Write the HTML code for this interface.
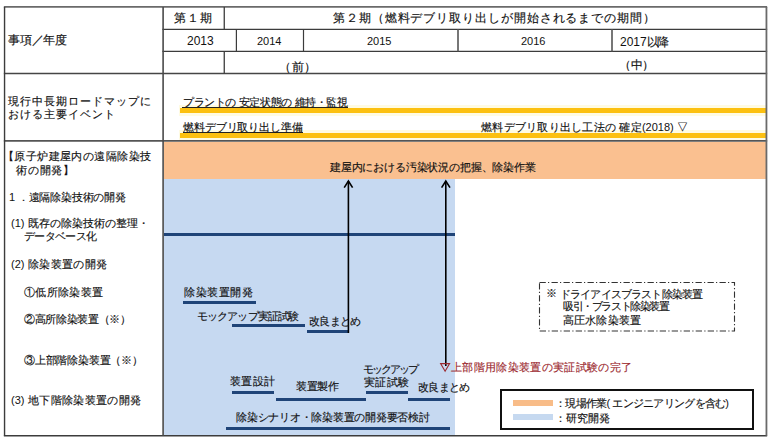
<!DOCTYPE html>
<html lang="ja"><head><meta charset="utf-8"><title>roadmap</title>
<style>
html,body{margin:0;padding:0;background:#fff;}
#page{position:relative;width:773px;height:443px;overflow:hidden;background:#fff;font-family:"Liberation Sans",sans-serif;color:#111;}
#page div{position:absolute;}
#page span{position:absolute;white-space:nowrap;}
#page span.j{text-align:justify;text-align-last:justify;letter-spacing:-3px;-webkit-text-stroke:0.15px currentColor;}
#page span i{font-style:normal;letter-spacing:0;-webkit-text-stroke:0;}
</style></head><body>
<div id="page">
<div style="left:164px;top:142px;width:602px;height:37px;background:#fac090;"></div>
<div style="left:164px;top:179px;width:291px;height:256px;background:#c6d9f1;"></div>
<div style="left:179px;top:105px;width:587px;height:11px;background:#fffbe2;"></div>
<div style="left:179px;top:130px;width:587px;height:10px;background:#fffbe2;"></div>
<div style="left:180px;top:108px;width:586px;height:5px;background:#fcc010;"></div>
<div style="left:180px;top:133px;width:586px;height:5px;background:#fcc010;"></div>
<div style="left:182px;top:107px;width:166px;height:1px;background:#222;"></div>
<div style="left:183px;top:132px;width:120px;height:1px;background:#222;"></div>
<div style="left:164px;top:233px;width:291px;height:3px;background:#1f4478;"></div>
<div style="left:183px;top:301px;width:73px;height:3px;background:#1f4478;"></div>
<div style="left:232px;top:324px;width:73px;height:3px;background:#1f4478;"></div>
<div style="left:307px;top:330px;width:41px;height:3px;background:#1f4478;"></div>
<div style="left:232px;top:391px;width:42px;height:3px;background:#1f4478;"></div>
<div style="left:276px;top:398px;width:90px;height:3px;background:#1f4478;"></div>
<div style="left:366px;top:391px;width:42px;height:3px;background:#1f4478;"></div>
<div style="left:408px;top:398px;width:42px;height:3px;background:#1f4478;"></div>
<div style="left:226px;top:427px;width:224px;height:3px;background:#1f4478;"></div>
<div style="left:500px;top:389px;width:254px;height:41px;background:transparent;border:2px solid #111;box-sizing:border-box;background:#fff;"></div>
<div style="left:513px;top:400px;width:40px;height:6px;background:#f8bc88;"></div>
<div style="left:513px;top:414px;width:40px;height:6px;background:#c6d9f0;"></div>
<svg width="773" height="443" style="position:absolute;left:0;top:0">
<g stroke="#3c3c3c" fill="none"><line x1="3.85" y1="6.9" x2="767.15" y2="6.9" stroke-width="1.7" stroke="#6a6a6a"/><line x1="162.40" y1="29.3" x2="767.15" y2="29.3" stroke-width="1.2" stroke="#3c3c3c"/><line x1="162.40" y1="51.4" x2="767.15" y2="51.4" stroke-width="1.2" stroke="#3c3c3c"/><line x1="3.85" y1="73.45" x2="767.15" y2="73.45" stroke-width="1.4" stroke="#464646"/><line x1="3.85" y1="140.8" x2="767.15" y2="140.8" stroke-width="1.7" stroke="#555"/><line x1="3.85" y1="435.8" x2="767.15" y2="435.8" stroke-width="1.6" stroke="#3c3c3c"/><line x1="4.55" y1="6.9" x2="4.55" y2="435.8" stroke-width="1.4" stroke="#3c3c3c"/><line x1="163.1" y1="6.9" x2="163.1" y2="435.8" stroke-width="1.6" stroke="#4a4a4a"/><line x1="766.45" y1="6.9" x2="766.45" y2="435.8" stroke-width="1.8" stroke="#6a6a6a"/><line x1="224.26" y1="6.9" x2="224.26" y2="29.3" stroke-width="1.3" stroke="#3c3c3c"/><line x1="224.26" y1="51.4" x2="224.26" y2="73.45" stroke-width="1.3" stroke="#3c3c3c"/><line x1="236.4" y1="29.3" x2="236.4" y2="51.4" stroke-width="1.2" stroke="#3c3c3c"/><line x1="303.5" y1="29.3" x2="303.5" y2="51.4" stroke-width="1.2" stroke="#3c3c3c"/><line x1="458.0" y1="29.3" x2="458.0" y2="51.4" stroke-width="1.6" stroke="#555"/><line x1="612.0" y1="29.3" x2="612.0" y2="51.4" stroke-width="1.6" stroke="#555"/></g>
<g stroke="#000" stroke-width="1.6" fill="none">
<line x1="348.4" y1="181" x2="348.4" y2="333"/>
<polyline points="344.2,187.6 348.4,181 352.6,187.6"/>
<line x1="445.8" y1="181" x2="445.8" y2="366"/>
<polyline points="441.6,187.6 445.8,181 450,187.6"/>
</g>
<polygon points="440.6,363.6 449.6,363.6 445.1,371.2" fill="none" stroke="#9c2a30" stroke-width="1.1"/>
<rect x="539.5" y="282.5" width="195" height="48.5" fill="none" stroke="#333" stroke-width="1.1" stroke-dasharray="6.3 2.2 1.2 2.3"/>
</svg>
<span id="t1" class="j" style="left:173.60px;top:12.00px;width:35.80px;font-size:12px;line-height:12px;">第１期</span>
<span id="t2" class="j" style="left:333.00px;top:12.00px;width:319.00px;font-size:12px;line-height:12px;">第２期（燃料デブリ取り出しが開始されるまでの期間）</span>
<span id="t3" style="left:187.00px;top:35.00px;font-size:12px;line-height:12px;">2013</span>
<span id="t4" style="left:257.00px;top:36.20px;font-size:11px;line-height:11px;">2014</span>
<span id="t5" style="left:367.00px;top:36.20px;font-size:11px;line-height:11px;">2015</span>
<span id="t6" style="left:521.00px;top:36.20px;font-size:11px;line-height:11px;">2016</span>
<span id="t7" class="j" style="left:620.00px;top:36.00px;width:46.00px;font-size:12px;line-height:12px;"><i>2017</i>以降</span>
<span id="t8" class="j" style="left:279.00px;top:60.50px;width:34.00px;font-size:12px;line-height:12px;">（前）</span>
<span id="t9" class="j" style="left:619.00px;top:59.40px;width:32.00px;font-size:12px;line-height:12px;">（中）</span>
<span id="l1" class="j" style="left:8.00px;top:34.00px;width:56.00px;font-size:12px;line-height:12px;">事項／年度</span>
<span id="l2" class="j" style="left:8.20px;top:96.40px;width:139.80px;font-size:11px;line-height:11px;">現行中長期ロードマップに</span>
<span id="l3" class="j" style="left:8.20px;top:108.80px;width:104.20px;font-size:11px;line-height:11px;">おける主要イベント</span>
<span id="l4" class="j" style="left:3.00px;top:151.40px;width:145.00px;font-size:11px;line-height:11px;">【原子炉建屋内の遠隔除染技</span>
<span id="l5" class="j" style="left:16.00px;top:164.80px;width:55.00px;font-size:11px;line-height:11px;">術の開発】</span>
<span id="l6" class="j" style="left:9.00px;top:191.80px;width:114.00px;font-size:11px;line-height:11px;"><i>1</i>．遠隔除染技術の開発</span>
<span id="l7" class="j" style="left:11.00px;top:218.30px;width:135.00px;font-size:11px;line-height:11px;"><i>(1)</i> 既存の除染技術の整理・</span>
<span id="l8" class="j" style="left:24.00px;top:230.70px;width:70.00px;font-size:11px;line-height:11px;">データベース化</span>
<span id="l9" class="j" style="left:11.00px;top:258.60px;width:93.00px;font-size:11px;line-height:11px;"><i>(2)</i> 除染装置の開発</span>
<span id="l10" class="j" style="left:24.00px;top:287.20px;width:76.00px;font-size:11px;line-height:11px;">①低所除染装置</span>
<span id="l11" class="j" style="left:24.00px;top:314.20px;width:104.00px;font-size:11px;line-height:11px;">②高所除染装置（※）</span>
<span id="l12" class="j" style="left:24.00px;top:354.50px;width:116.00px;font-size:11px;line-height:11px;">③上部階除染装置（※）</span>
<span id="l13" class="j" style="left:11.00px;top:395.30px;width:127.00px;font-size:11px;line-height:11px;"><i>(3)</i> 地下階除染装置の開発</span>
<span id="r1" class="j" style="left:183.00px;top:97.00px;width:162.00px;font-size:11px;line-height:11px;">プラントの 安定状態の 維持・監視</span>
<span id="r2" class="j" style="left:183.00px;top:122.40px;width:117.00px;font-size:11px;line-height:11px;">燃料デブリ取り出し準備</span>
<span id="r3" class="j" style="left:481.00px;top:122.10px;width:204.00px;font-size:11px;line-height:11px;">燃料デブリ取り出し工法の 確定<i>(2018)</i> ▽</span>
<span id="c1" class="j" style="left:330.00px;top:162.00px;width:203.00px;font-size:11px;line-height:11px;">建屋内における汚染状況の把握、除染作業</span>
<span id="c2" class="j" style="left:184.00px;top:286.80px;width:66.00px;font-size:11px;line-height:11px;">除染装置開発</span>
<span id="c3" class="j" style="left:197.00px;top:310.50px;width:99.00px;font-size:11px;line-height:11px;">モックアップ実証試験</span>
<span id="c4" class="j" style="left:309.00px;top:316.30px;width:49.00px;font-size:11px;line-height:11px;">改良まとめ</span>
<span id="c5" class="j" style="left:230.00px;top:376.00px;width:42.00px;font-size:11px;line-height:11px;">装置設計</span>
<span id="c6" class="j" style="left:296.00px;top:381.40px;width:40.00px;font-size:11px;line-height:11px;">装置製作</span>
<span id="c7" class="j" style="left:363.00px;top:364.40px;width:53.00px;font-size:11px;line-height:11px;">モックアップ</span>
<span id="c8" class="j" style="left:364.00px;top:377.00px;width:42.00px;font-size:11px;line-height:11px;">実証試験</span>
<span id="c9" class="j" style="left:418.00px;top:381.90px;width:49.00px;font-size:11px;line-height:11px;">改良まとめ</span>
<span id="c10" class="j" style="left:451.00px;top:362.00px;width:178.00px;font-size:11px;line-height:11px;color:#9c2a30;">上部階用除染装置の実証試験の完了</span>
<span id="c11" class="j" style="left:236.00px;top:412.40px;width:191.00px;font-size:11px;line-height:11px;">除染シナリオ・除染装置の開発要否検討</span>
<span id="d0" class="j" style="left:546.00px;top:288.00px;width:7.00px;font-size:11px;line-height:11px;">※</span>
<span id="d1" class="j" style="left:560.00px;top:288.90px;width:140.00px;font-size:11px;line-height:11px;">ドライアイスブラスト除染装置</span>
<span id="d2" class="j" style="left:563.00px;top:300.60px;width:104.00px;font-size:11px;line-height:11px;">吸引・ブラスト除染装置</span>
<span id="d3" class="j" style="left:563.00px;top:315.30px;width:75.00px;font-size:11px;line-height:11px;">高圧水除染装置</span>
<span id="g1" class="j" style="left:555.00px;top:397.60px;width:174.00px;font-size:11px;line-height:11px;">：現場作業<i>(</i>エンジニアリングを含む<i>)</i></span>
<span id="g2" class="j" style="left:555.00px;top:413.00px;width:52.00px;font-size:11px;line-height:11px;">：研究開発</span>
</div>
</body></html>
